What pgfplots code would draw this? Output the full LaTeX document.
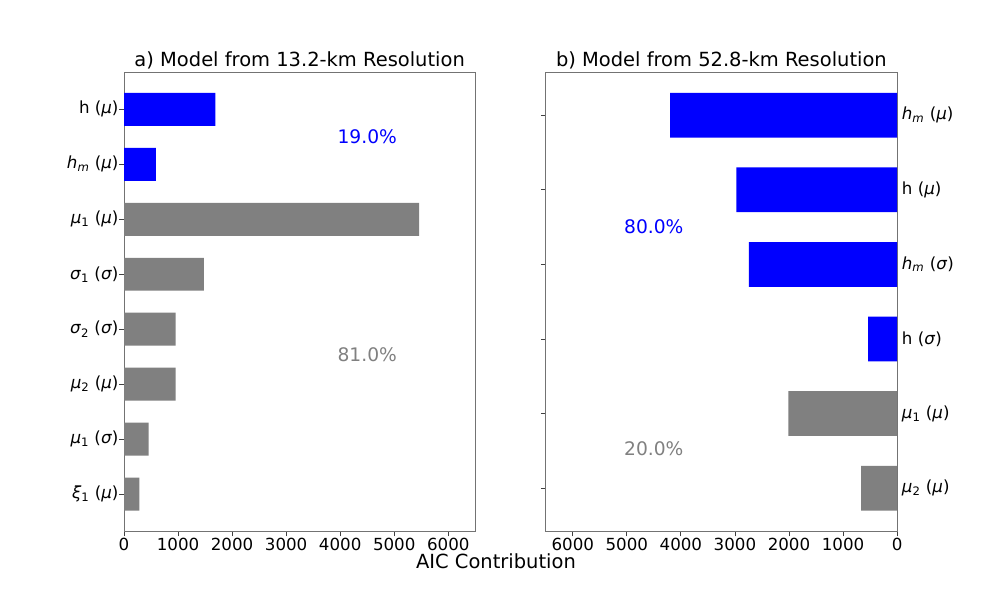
\documentclass[border=0pt]{standalone}
\usepackage{fontspec}
\setmainfont{DejaVu Sans}
\usepackage{pgfplots}
\pgfplotsset{compat=1.18}
\definecolor{mblue}{RGB}{0,0,255}
\definecolor{mgray}{RGB}{128,128,128}
\definecolor{spine}{RGB}{115,115,115}
\newcommand{\mi}[1]{\textit{#1}}
\newcommand{\sub}[1]{\textsubscript{#1}}
\begin{document}
\begin{tikzpicture}
\path (0pt,0pt) rectangle (747.75pt,448.5pt);
\pgfplotsset{
  common/.style={
    scale only axis, width=263.5pt, height=344.6pt,
    xmin=0, xmax=6500,
    xtick={0,1000,2000,3000,4000,5000,6000},
    axis line style={spine, line width=0.6pt},
    tick style={black!75, line width=0.6pt},
    tick align=outside, major tick length=3.6pt,
    ticklabel style={font=\fontsize{12.5}{15}\selectfont},
    xticklabel style={yshift=2.2pt},
    /pgf/number format/assume math mode=true,
    /pgf/number format/1000 sep={},
    scaled x ticks=false,
    clip=false,
    y dir=reverse,
    xtick pos=bottom,
  }
}
% left panel
\begin{axis}[common, at={(224.75pt,222.2pt)}, anchor=center,
  ymin=-0.68, ymax=7.68, ytick={0,1,2,3,4,5,6,7},
  ytick pos=left,
  yticklabel style={xshift=3pt},
  yticklabels={h (\mi{μ}), \mi{h}\sub{\mi{m}} (\mi{μ}), \mi{μ}\sub{1} (\mi{μ}), \mi{σ}\sub{1} (\mi{σ}), \mi{σ}\sub{2} (\mi{σ}), \mi{μ}\sub{2} (\mi{μ}), \mi{μ}\sub{1} (\mi{σ}), \mi{ξ}\sub{1} (\mi{μ})},
]
\addplot[xbar, bar shift=0pt, bar width=0.6, fill=mblue, draw=none] coordinates {(1690,0) (590,1)};
\addplot[xbar, bar shift=0pt, bar width=0.6, fill=mgray, draw=none] coordinates {(5460,2) (1480,3) (955,4) (955,5) (456,6) (284,7)};
\node[text=mblue, font=\fontsize{14}{16}\selectfont] at (axis cs:4500,0.5) {19.0\%};
\node[text=mgray, font=\fontsize{14}{16}\selectfont] at (axis cs:4500,4.46) {81.0\%};
\end{axis}
\node[anchor=base, font=\fontsize{14.6}{17}\selectfont] at (224.75pt,398.5pt) {a) Model from 13.2-km Resolution};
% right panel
\begin{axis}[common, at={(541.05pt,222.2pt)}, anchor=center,
  x dir=reverse,
  ymin=-0.58, ymax=5.58, ytick={0,1,2,3,4,5},
  ytick pos=left, yticklabel pos=right,
  yticklabel style={anchor=west, xshift=-3.5pt},
  yticklabels={\mi{h}\sub{\mi{m}} (\mi{μ}), h (\mi{μ}), \mi{h}\sub{\mi{m}} (\mi{σ}), h (\mi{σ}), \mi{μ}\sub{1} (\mi{μ}), \mi{μ}\sub{2} (\mi{μ})},
]
\addplot[xbar, bar shift=0pt, bar width=0.6, fill=mblue, draw=none] coordinates {(4200,0) (2975,1) (2741,2) (537,3)};
\addplot[xbar, bar shift=0pt, bar width=0.6, fill=mgray, draw=none] coordinates {(2013,4) (667,5)};
\node[text=mblue, font=\fontsize{14}{16}\selectfont] at (axis cs:4500,1.49) {80.0\%};
\node[text=mgray, font=\fontsize{14}{16}\selectfont] at (axis cs:4500,4.47) {20.0\%};
\end{axis}
\node[anchor=base, font=\fontsize{14.6}{17}\selectfont] at (541.05pt,398.5pt) {b) Model from 52.8-km Resolution};
\node[anchor=base, font=\fontsize{14.6}{17}\selectfont] at (372pt,21.75pt) {AIC Contribution};
\end{tikzpicture}
\end{document}
